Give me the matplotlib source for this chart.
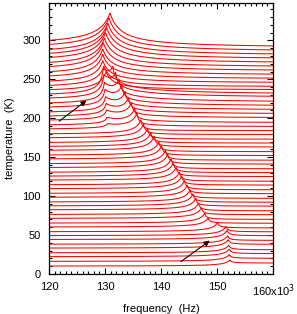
import numpy as np
import matplotlib
matplotlib.use("Agg")
import matplotlib.pyplot as plt
from matplotlib.ticker import MultipleLocator

# temperature offset of each spectrum (K)
temps = [10, 16, 22, 27, 33, 38, 44, 49, 54, 60, 65, 71, 76, 82, 87, 92, 98, 103,
         109, 114, 120, 125, 130, 136, 141, 147, 152, 158, 163, 168, 174, 179, 185,
         190, 196, 201, 206, 212, 217, 223, 228, 234, 239, 244, 250, 255, 261, 266,
         272, 277, 282, 288, 293]
# main resonance frequency of each spectrum (kHz)
f_res = [152.3, 152.2, 152.2, 152.1, 152.0, 151.9, 151.8, 151.6, 150.1, 148.4,
         147.8, 147.2, 146.7, 146.2, 145.7, 145.2, 144.7, 144.2, 143.7, 143.3,
         142.7, 142.2, 141.8, 141.2, 140.8, 140.1, 139.6, 138.8, 138.2, 137.6,
         136.9, 136.4, 135.7, 135.3, 134.7, 134.2, 133.6, 133.0, 132.5, 131.9,
         131.4, 130.2, 129.8, 129.6, 129.6, 129.6, 129.7, 129.9, 130.1, 130.3,
         130.5, 130.7, 130.9]
# main peak height (K units)
amp = [8, 9, 10, 10, 11, 11, 12, 12, 12, 12, 13, 14, 15, 15, 16, 16, 16, 17,
       17, 17, 17, 18, 18, 18, 18, 18, 18, 19, 19, 19, 19, 19, 20, 20, 20, 20,
       21, 21, 22, 22, 22, 26, 28, 30, 32, 34, 36, 37, 38, 39, 40, 41, 42]
# half width on the low-frequency side (kHz)
width_lo = [1.0, 1.0, 1.0, 1.0, 1.0, 1.0, 1.0, 1.0, 1.0, 1.0, 1.0, 1.0, 1.0,
            1.0, 1.0, 1.0, 1.0, 1.0, 1.0, 1.0, 1.0, 1.0, 1.0, 1.0, 1.0, 1.0,
            1.0, 1.0, 1.0, 1.0, 1.0, 1.0, 1.0, 1.0, 1.0, 1.0, 1.0, 1.0, 1.0,
            1.0, 1.0, 1.2, 1.3, 1.4, 1.5, 1.6, 1.7, 1.8, 1.9, 2.0, 2.0, 2.1, 2.2]
# half width on the high-frequency side (kHz)
width_hi = [0.3, 0.3, 0.3, 0.3, 0.3, 0.3, 0.3, 0.3, 0.3, 0.3, 0.3, 0.3, 0.3,
            0.3, 0.3, 0.3, 0.3, 0.3, 0.3, 0.3, 0.3, 0.3, 0.3, 0.3, 0.3, 0.3,
            0.3, 0.3, 0.3, 0.3, 0.3, 0.3, 0.3, 0.3, 0.3, 0.3, 0.3, 0.3, 0.3,
            0.3, 0.3, 1.2, 1.3, 1.4, 1.5, 1.6, 1.7, 1.8, 1.9, 2.0, 2.0, 2.0, 2.0]
# level on the high-frequency side relative to the offset (K units)
plateau = [4, 4, 4, 4, 5, 5, 5, 5, 5, 5, 5, 5, 5, 5, 5, 5, 5, 5, 5, 5, 5, 5,
           5, 5, 5, 5, 5, 5, 5, 5, 5, 5, 4, 4, 4, 4, 4, 3, 3, 3, 2, 2, 1, 1, 0,
           0, -1, -1, -2, -2, -2, -3, -3]
# second (soft-mode) peak near 130 kHz seen between ~185 and 230 K
f_res2 = [0, 0, 0, 0, 0, 0, 0, 0, 0, 0, 0, 0, 0, 0, 0, 0, 0, 0, 0, 0, 0, 0,
          0, 0, 0, 0, 0, 0, 0, 0, 0, 0, 130.5, 130.4, 130.3, 130.2, 130.1,
          130.0, 129.9, 129.8, 129.7, 0, 0, 0, 0, 0, 0, 0, 0, 0, 0, 0, 0]
amp2 = [0, 0, 0, 0, 0, 0, 0, 0, 0, 0, 0, 0, 0, 0, 0, 0, 0, 0, 0, 0, 0, 0,
        0, 0, 0, 0, 0, 0, 0, 0, 0, 0, 5, 8, 11, 14, 17, 20, 23, 26, 28, 0, 0,
        0, 0, 0, 0, 0, 0, 0, 0, 0, 0]

xticks = [120, 130, 140, 150, 160]
xticklabels = ["120", "130", "140", "150", "160x10$^3$"]
yticks = [0, 50, 100, 150, 200, 250, 300]

plt.rcParams['font.family'] = ['Liberation Sans', 'DejaVu Sans']

fig = plt.figure(figsize=(2.97, 3.14), dpi=100)
ax = fig.add_axes([49 / 297, 1 - 274 / 314, 224 / 297, 271 / 314])


def cusp(d, g):
    return g / (np.abs(d) + g)


f = np.linspace(120, 160, 2400)
for T, f0, A, gl, gr, B, f1, A1 in zip(temps, f_res, amp, width_lo, width_hi,
                                       plateau, f_res2, amp2):
    d = f - f0
    y = np.where(d < 0, T + A * cusp(d, gl),
                 T + B + (A - B) * cusp(d, gr))
    if A1 > 0:
        d1 = f - f1
        y = y + np.where(d1 < 0, A1 * cusp(d1, 0.5), A1 * cusp(d1, 2.6))
    ax.plot(f, y, color='#ff0000', lw=0.75)

ax.annotate('', xy=(127.1, 225), xytext=(121.4, 194),
            arrowprops=dict(arrowstyle='-|>', color='black', lw=0.8,
                            mutation_scale=8))
ax.annotate('', xy=(149.1, 45), xytext=(143.2, 14),
            arrowprops=dict(arrowstyle='-|>', color='black', lw=0.8,
                            mutation_scale=8))

ax.set_xlim(120, 160)
ax.set_ylim(0, 348)
ax.set_xticks(xticks)
ax.set_xticklabels(xticklabels)
ax.set_yticks(yticks)
ax.xaxis.set_minor_locator(MultipleLocator(1))
ax.yaxis.set_minor_locator(MultipleLocator(10))
ax.tick_params(which='both', direction='in', top=True, right=True,
               labelsize=8, width=0.8)
ax.tick_params(which='major', length=4)
ax.tick_params(which='minor', length=2)
ax.tick_params(axis='y', which='major', pad=6)
ax.tick_params(axis='x', which='major', pad=6)
for s in ax.spines.values():
    s.set_linewidth(0.9)
ax.set_xlabel('frequency  (Hz)', fontsize=8, labelpad=4)
ax.set_ylabel('temperature  (K)', fontsize=8, labelpad=5)

fig.savefig('out.png', dpi=100)
